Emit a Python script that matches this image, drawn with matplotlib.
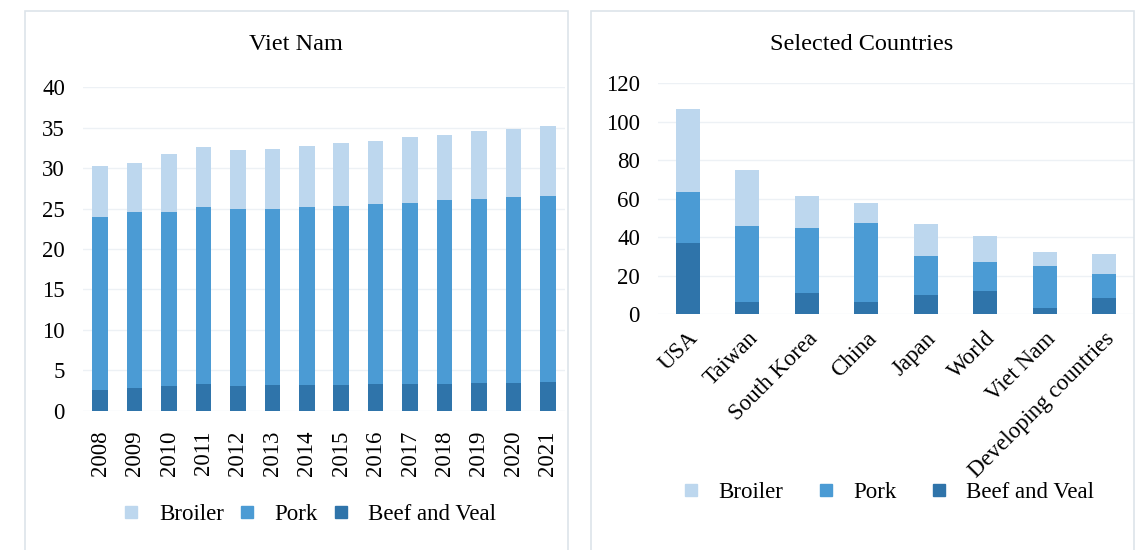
import matplotlib.pyplot as plt
from matplotlib.patches import Rectangle
from matplotlib.lines import Line2D

# Viet Nam per-capita meat consumption (kg)
years = ['2008', '2009', '2010', '2011', '2012', '2013', '2014',
         '2015', '2016', '2017', '2018', '2019', '2020', '2021']
vn_beef = [2.5, 2.75, 3.05, 3.35, 3.05, 3.2, 3.2, 3.2, 3.35, 3.35, 3.35, 3.45, 3.45, 3.6]
vn_pork = [21.4, 21.85, 21.55, 21.85, 21.85, 21.7, 22.0, 22.1, 22.25, 22.35, 22.65, 22.75, 22.95, 23.0]
vn_broiler = [6.4, 6.0, 7.15, 7.4, 7.3, 7.5, 7.5, 7.85, 7.8, 8.15, 8.15, 8.35, 8.45, 8.6]

# Selected countries
countries = ['USA', 'Taiwan', 'South Korea', 'China', 'Japan', 'World',
             'Viet Nam', 'Developing countries']
ct_beef = [36.8, 6.1, 10.9, 6.1, 9.7, 12.0, 3.3, 8.3]
ct_pork = [26.8, 39.5, 34.0, 41.2, 20.5, 15.2, 21.5, 12.5]
ct_broiler = [43.0, 29.3, 16.5, 10.4, 16.4, 13.5, 7.6, 10.6]

c_broiler = '#bdd7ee'
c_pork = '#4b9bd4'
c_beef = '#2f74aa'
grid_c = '#edf1f5'
frame_c = '#dde4ea'

plt.rcParams['font.family'] = ['Liberation Serif', 'DejaVu Serif']
fs = 16.5

W, H = 1141, 550
fig = plt.figure(figsize=(W / 100, H / 100), dpi=100)


def px(x0, y0, x1, y1):
    # pixel box (top-left origin) -> figure fraction rect
    return [x0 / W, 1 - y1 / H, (x1 - x0) / W, (y1 - y0) / H]


# panel frames
for x0, x1 in [(25, 568), (591, 1134)]:
    fig.patches.append(Rectangle((x0 / W, -0.01), (x1 - x0) / W, 1 - 11 / H + 0.01,
                                 transform=fig.transFigure, fill=False,
                                 edgecolor=frame_c, linewidth=1.2))


def style(ax, ymax, step):
    ax.set_ylim(0, ymax)
    ax.set_yticks(range(0, ymax + 1, step))
    ax.yaxis.grid(True, color=grid_c, linewidth=1)
    ax.set_axisbelow(True)
    for s in ax.spines.values():
        s.set_visible(False)
    ax.tick_params(length=0, labelsize=fs)
    ax.tick_params(axis='y', pad=13)


def legend(ax, x, y, spacing):
    handles = [Line2D([], [], ls='none', marker='s', markersize=8, color=c)
               for c in (c_broiler, c_pork, c_beef)]
    fig.legend(handles, ['Broiler', 'Pork', 'Beef and Veal'], loc='center',
               bbox_to_anchor=(x / W, 1 - y / H), ncol=3, frameon=False,
               fontsize=fs, handletextpad=0.7, columnspacing=spacing,
               handlelength=1.0)


# left: Viet Nam
ax1 = fig.add_axes(px(83, 87.3, 565, 410.7))
x = range(len(years))
bw = 0.45
ax1.bar(x, vn_beef, bw, color=c_beef)
ax1.bar(x, vn_pork, bw, bottom=vn_beef, color=c_pork)
b2 = [a + b for a, b in zip(vn_beef, vn_pork)]
ax1.bar(x, vn_broiler, bw, bottom=b2, color=c_broiler)
ax1.set_xlim(-0.5, len(years) - 0.5)
style(ax1, 40, 5)
ax1.set_xticks(list(x))
ax1.set_xticklabels(years, rotation=90)
ax1.tick_params(axis='x', pad=14)
fig.text(296 / W, 1 - 45 / H, 'Viet Nam', ha='center', va='center', fontsize=fs + 1)
legend(ax1, 308, 514, 0.5)

# right: selected countries
ax2 = fig.add_axes(px(658, 83.3, 1134, 314))
x = range(len(countries))
bw = 0.4
ax2.bar(x, ct_beef, bw, color=c_beef)
ax2.bar(x, ct_pork, bw, bottom=ct_beef, color=c_pork)
b2 = [a + b for a, b in zip(ct_beef, ct_pork)]
ax2.bar(x, ct_broiler, bw, bottom=b2, color=c_broiler)
ax2.set_xlim(-0.5, len(countries) - 0.5)
style(ax2, 120, 20)
ax2.set_xticks(list(x))
ax2.set_xticklabels(countries, rotation=45, ha='right', rotation_mode='anchor')
ax2.tick_params(axis='x', pad=10)
fig.text(862 / W, 1 - 45 / H, 'Selected Countries', ha='center', va='center', fontsize=fs + 1)
legend(ax2, 887, 492, 1.35)

fig.savefig('out.png', dpi=100)
